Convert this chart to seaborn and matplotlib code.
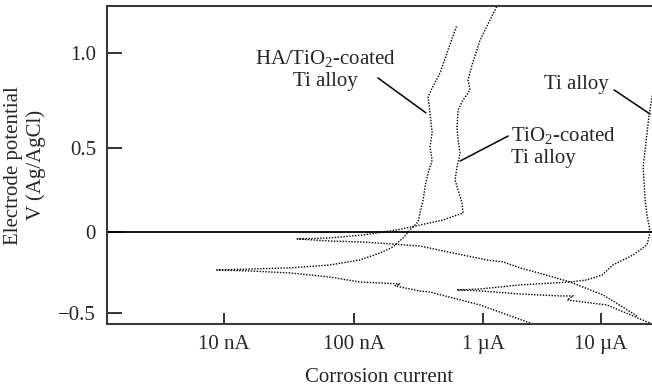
import numpy as np
import matplotlib
matplotlib.use("Agg")
import matplotlib.pyplot as plt
import seaborn as sns

# current in nA, potential in V (Ag/AgCl); each path runs cathodic end -> tip -> anodic end
ha_current = [2500, 948, 388, 325, 208, 228, 159, 111, 65, 32, 15.8, 8.8,
              15.8, 32, 65, 111, 159, 200, 240, 272, 313, 325, 343, 355, 375,
              403, 388, 403, 388, 375, 403, 464, 535, 628]
ha_potential = [-0.56, -0.449, -0.369, -0.363, -0.331, -0.319, -0.313, -0.307,
                -0.276, -0.251, -0.239, -0.233,
                -0.227, -0.220, -0.202, -0.171, -0.128, -0.091, -0.035, 0.014,
                0.061, 0.115, 0.192, 0.270, 0.353, 0.430, 0.507, 0.580, 0.685,
                0.768, 0.815, 0.894, 1.014, 1.145]

tio2_current = [20200, 10400, 5460, 3920, 2060, 1476, 1081, 585, 325, 117, 65,
                36.5,
                65, 117, 215, 325, 490, 700, 688, 640, 607, 628, 664, 640, 628,
                640, 700, 793, 765, 822, 948, 1393]
tio2_potential = [-0.517, -0.387, -0.307, -0.276, -0.220, -0.183, -0.171,
                  -0.128, -0.085, -0.060, -0.054, -0.041,
                  -0.035, -0.017, 0.014, 0.043, 0.073, 0.115, 0.174, 0.252,
                  0.311, 0.389, 0.472, 0.543, 0.611, 0.700, 0.753, 0.805, 0.857,
                  0.936, 1.066, 1.276]

ti_current = [27000, 11250, 5150, 5800, 4500, 2060, 948, 628,
              948, 2060, 5460, 7600, 10200, 12600, 18700, 24500, 26000, 24500,
              23600, 22700, 23600, 24500, 25500, 27000, 29200]
ti_potential = [-0.566, -0.449, -0.418, -0.393, -0.393, -0.381, -0.362, -0.356,
                -0.350, -0.325, -0.307, -0.294, -0.264, -0.202, -0.140, -0.078,
                0.002, 0.103, 0.192, 0.389, 0.49, 0.580, 0.674, 0.768, 0.831]

curves = [
    (ha_current, ha_potential),
    (tio2_current, tio2_potential),
    (ti_current, ti_potential),
]

x_ticks = [10, 100, 1000, 10000]
x_ticklabels = ["10 nA", "100 nA", "1 \u00b5A", "10 \u00b5A"]
y_ticks = [-0.5, 0, 0.5, 1.0]
y_ticklabels = ["\u22120.5", "0", "0.5", "1.0"]

# labels: text, text position, alignment, leader start, leader end
labels = [
    ("HA/TiO$_2$-coated\nTi alloy", (59.8, 0.91), "center", (153, 0.868), (361, 0.685)),
    ("TiO$_2$-coated\nTi alloy", (1726, 0.509), "left", (1630, 0.564), (664, 0.424)),
    ("Ti alloy", (6140, 0.836), "center", (12900, 0.805), (26000, 0.679)),
]

# the printed axes are not evenly spaced; spacing of the tick marks
x_axis_dec = [1, 2, 3, 4]
x_axis_pos = [0, 130, 259, 377]
y_axis_val = [-0.5, 0, 0.5, 1.0]
y_axis_pos = [0, 81, 165, 260.6]


def pw(v, xp, fp):
    v = np.asarray(v, dtype=float)
    lo = fp[0] + (v - xp[0]) * (fp[1] - fp[0]) / (xp[1] - xp[0])
    hi = fp[-1] + (v - xp[-1]) * (fp[-1] - fp[-2]) / (xp[-1] - xp[-2])
    return np.where(v < xp[0], lo, np.where(v > xp[-1], hi, np.interp(v, xp, fp)))


def x_fwd(x):
    return pw(np.log10(np.clip(np.asarray(x, dtype=float), 1e-12, None)), x_axis_dec, x_axis_pos)


def x_inv(p):
    return 10 ** pw(p, x_axis_pos, x_axis_dec)


def y_fwd(v):
    return pw(v, y_axis_val, y_axis_pos)


def y_inv(p):
    return pw(p, y_axis_pos, y_axis_val)


sns.set_style("ticks")
plt.rcParams["font.family"] = ["Liberation Serif", "DejaVu Serif"]
plt.rcParams["mathtext.fontset"] = "custom"
plt.rcParams["mathtext.rm"] = "Liberation Serif"
plt.rcParams["mathtext.it"] = "Liberation Serif:italic"
plt.rcParams["mathtext.default"] = "rm"

fs = 15

fig = plt.figure(figsize=(6.52, 3.90), dpi=100)
ax = fig.add_axes([0.1641, 0.1685, 0.8359, 0.8161])

for cur, pot in curves:
    sns.lineplot(x=cur, y=pot, sort=False, estimator=None, ax=ax,
                 color="#000000", lw=1.0, ls=(0, (1, 1.1)))

ax.axhline(0, color="black", lw=1.3)

ax.set_xscale("function", functions=(x_fwd, x_inv))
ax.set_yscale("function", functions=(y_fwd, y_inv))
ax.set_xlim(1.259, 27000)
ax.set_ylim(-0.568, 1.244)

ax.set_xticks(x_ticks, labels=x_ticklabels)
ax.set_yticks(y_ticks, labels=y_ticklabels)
ax.minorticks_off()
ax.tick_params(axis="x", direction="in", length=8, width=1.3, color="#222",
               labelsize=fs, pad=8)
ax.tick_params(axis="y", direction="in", length=10.5, width=1.3, color="#222",
               labelsize=fs, pad=8)

for side in ["left", "top", "bottom"]:
    ax.spines[side].set_color("#3a3a3a")
    ax.spines[side].set_linewidth(1.5)
ax.spines["right"].set_visible(False)

ax.set_xlabel("Corrosion current", fontsize=fs, labelpad=10)
ax.set_ylabel("Electrode potential\nV (Ag/AgCl)", fontsize=fs, labelpad=9,
              linespacing=1.2)

for text, pos, ha, start, end in labels:
    ax.text(pos[0], pos[1], text, ha=ha, va="center", fontsize=fs,
            multialignment=ha, linespacing=1.2)
    ax.annotate("", xy=end, xytext=start,
                arrowprops=dict(arrowstyle="-", color="black", lw=1.1,
                                shrinkA=0, shrinkB=0))

fig.savefig("out.png", dpi=100)
